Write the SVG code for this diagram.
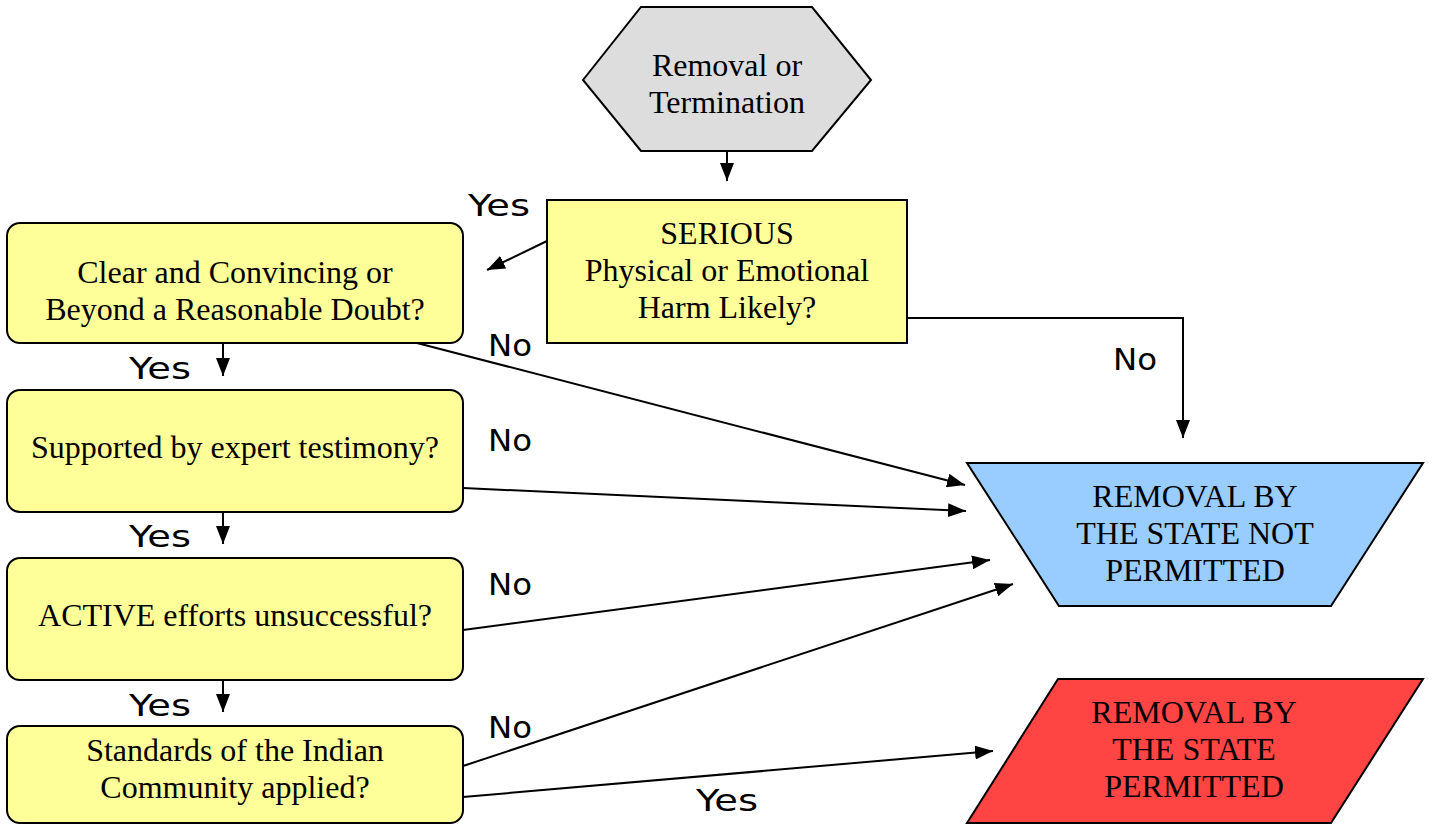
<svg xmlns="http://www.w3.org/2000/svg" width="1434" height="825" viewBox="0 0 1434 825">
<style>
.node{stroke:#000;stroke-width:2}
.t{font-family:"Liberation Serif",serif;font-size:32px;fill:#000;text-anchor:middle}
.lbl{font-family:"DejaVu Sans",sans-serif;font-size:30px;fill:#000}
.c{fill:none;stroke:#000;stroke-width:2;marker-end:url(#ah)}
</style>
<defs>
<marker id="ah" markerWidth="18" markerHeight="14" refX="18" refY="7" orient="auto" markerUnits="userSpaceOnUse">
<path d="M0,0 L18,7 L0,14 Z" fill="#000"/>
</marker>
</defs>
<rect width="1434" height="825" fill="#fff"/>
<g id="connectors">
<path class="c" d="M727,151 L727,181"/>
<path class="c" d="M547,241 L487,270"/>
<path class="c" d="M907,318 L1183,318 L1183,438"/>
<path class="c" d="M223,343 L223,376"/>
<path class="c" d="M417,343 L965,485"/>
<path class="c" d="M463,488 L966,511"/>
<path class="c" d="M223,512 L223,544"/>
<path class="c" d="M463,630 L990,560"/>
<path class="c" d="M223,680 L223,712"/>
<path class="c" d="M463,766 L1013,584"/>
<path class="c" d="M463,797 L993,751"/>
<text class="lbl" x="468" y="216" textLength="62" lengthAdjust="spacingAndGlyphs">Yes</text>
<text class="lbl" x="1113" y="370" textLength="44" lengthAdjust="spacingAndGlyphs">No</text>
<text class="lbl" x="488" y="356" textLength="44" lengthAdjust="spacingAndGlyphs">No</text>
<text class="lbl" x="129" y="379" textLength="62" lengthAdjust="spacingAndGlyphs">Yes</text>
<text class="lbl" x="488" y="451" textLength="44" lengthAdjust="spacingAndGlyphs">No</text>
<text class="lbl" x="129" y="547" textLength="62" lengthAdjust="spacingAndGlyphs">Yes</text>
<text class="lbl" x="488" y="595" textLength="44" lengthAdjust="spacingAndGlyphs">No</text>
<text class="lbl" x="129" y="716" textLength="62" lengthAdjust="spacingAndGlyphs">Yes</text>
<text class="lbl" x="488" y="738" textLength="44" lengthAdjust="spacingAndGlyphs">No</text>
<text class="lbl" x="696" y="811" textLength="62" lengthAdjust="spacingAndGlyphs">Yes</text>
</g>
<g id="start">
<polygon class="node" fill="#dddddd" points="583,80 641,7 812,7 871,80 812,151 641,151"/>
<text class="t" x="727" y="76">Removal or</text>
<text class="t" x="727" y="113">Termination</text>
</g>
<g id="serious">
<rect class="node" fill="#ffff99" x="547" y="200" width="360" height="143"/>
<text class="t" x="727" y="244">SERIOUS</text>
<text class="t" x="727" y="281">Physical or Emotional</text>
<text class="t" x="727" y="318">Harm Likely?</text>
</g>
<g id="clear">
<rect class="node" fill="#ffff99" x="7" y="223" width="456" height="120" rx="13"/>
<text class="t" x="235" y="283">Clear and Convincing or</text>
<text class="t" x="235" y="320">Beyond a Reasonable Doubt?</text>
</g>
<g id="expert">
<rect class="node" fill="#ffff99" x="7" y="390" width="456" height="122" rx="13"/>
<text class="t" x="235" y="458">Supported by expert testimony?</text>
</g>
<g id="active">
<rect class="node" fill="#ffff99" x="7" y="558" width="456" height="122" rx="13"/>
<text class="t" x="235" y="626">ACTIVE efforts unsuccessful?</text>
</g>
<g id="standards">
<rect class="node" fill="#ffff99" x="7" y="726" width="456" height="97" rx="13"/>
<text class="t" x="235" y="761">Standards of the Indian</text>
<text class="t" x="235" y="798">Community applied?</text>
</g>
<g id="notpermitted">
<polygon class="node" fill="#99ccff" points="967,463 1423,463 1331,606 1059,606"/>
<text class="t" x="1195" y="507">REMOVAL BY</text>
<text class="t" x="1195" y="544">THE STATE NOT</text>
<text class="t" x="1195" y="581">PERMITTED</text>
</g>
<g id="permitted">
<polygon class="node" fill="#ff4444" points="1058,679 1423,679 1331,823 967,823"/>
<text class="t" x="1194" y="723">REMOVAL BY</text>
<text class="t" x="1194" y="760">THE STATE</text>
<text class="t" x="1194" y="797">PERMITTED</text>
</g>
</svg>
